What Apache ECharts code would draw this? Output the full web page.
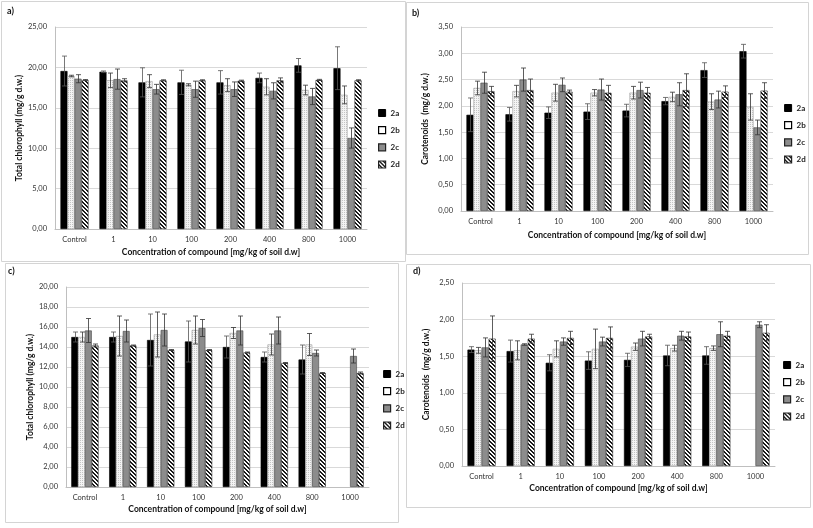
<!DOCTYPE html>
<html><head><meta charset="utf-8">
<script src="https://cdn.jsdelivr.net/npm/echarts@6/dist/echarts.min.js"></script>
<style>html,body{margin:0;padding:0;background:#fff}#c{width:813px;height:528px}</style>
</head><body><div id="c"></div>
<script>
var categories = ['Control','1','10','100','200','400','800','1000'];
var seriesNames = ['2a','2b','2c','2d'];

// Panel a – total chlorophyll
var a2a = [19.55, 19.46, 18.15, 18.15, 18.15, 18.7, 20.25, 19.9];
var a2aErr = [1.85, 0.1, 1.8, 1.5, 1.45, 0.6, 0.85, 2.65];
var a2b = [18.93, 18.4, 18.3, 17.85, 17.8, 17.6, 17.2, 16.6];
var a2bErr = [0.1, 0.9, 0.8, 0.13, 0.8, 1.0, 0.6, 1.1];
var a2c = [18.6, 18.55, 17.3, 17.3, 17.3, 17.1, 16.4, 11.26];
var a2cErr = [0.5, 1.25, 0.6, 1.0, 0.9, 1.0, 1.0, 1.25];
var a2d = [18.43, 18.4, 18.4, 18.4, 18.35, 18.4, 18.45, 18.4];
var a2dErr = [0.07, 0.2, 0.07, 0.07, 0.07, 0.3, 0.07, 0.07];

// Panel b – carotenoids
var b2a = [1.83, 1.84, 1.87, 1.89, 1.91, 2.09, 2.68, 3.04];
var b2aErr = [0.32, 0.13, 0.11, 0.15, 0.12, 0.07, 0.14, 0.13];
var b2b = [2.34, 2.28, 2.25, 2.25, 2.25, 2.17, 2.08, 1.98];
var b2bErr = [0.13, 0.11, 0.16, 0.06, 0.12, 0.09, 0.15, 0.25];
var b2c = [2.44, 2.5, 2.4, 2.31, 2.3, 2.22, 2.12, 1.59];
var b2cErr = [0.2, 0.22, 0.13, 0.2, 0.15, 0.22, 0.16, 0.14];
var b2d = [2.28, 2.30, 2.27, 2.25, 2.25, 2.30, 2.27, 2.29];
var b2dErr = [0.09, 0.21, 0.03, 0.14, 0.1, 0.31, 0.11, 0.15];

// Panel c – total chlorophyll
var c2a = [15.0, 15.0, 14.7, 14.55, 14.0, 13.0, 12.75, null];
var c2aErr = [0.5, 0.5, 2.6, 2.05, 1.1, 0.5, 1.45, null];
var c2b = [15.0, 15.1, 15.25, 15.7, 15.4, 14.25, 14.25, null];
var c2bErr = [0.5, 2.0, 2.25, 1.4, 0.55, 1.05, 1.1, null];
var c2c = [15.65, 15.6, 15.7, 15.9, 15.65, 15.65, 13.4, 13.1];
var c2cErr = [1.2, 1.1, 1.6, 0.85, 1.45, 1.35, 0.3, 0.7];
var c2d = [14.15, 14.15, 13.7, 13.7, 13.45, 12.4, 11.4, 11.4];
var c2dErr = [0.15, 0.05, 0.05, 0.05, 0.05, 0.05, 0.05, 0.1];

// Panel d – carotenoids
var d2a = [1.59, 1.57, 1.41, 1.44, 1.45, 1.51, 1.51, null];
var d2aErr = [0.04, 0.15, 0.11, 0.12, 0.09, 0.14, 0.12, null];
var d2b = [1.58, 1.58, 1.60, 1.60, 1.63, 1.61, 1.61, null];
var d2bErr = [0.04, 0.13, 0.11, 0.27, 0.05, 0.04, 0.03, null];
var d2c = [1.62, 1.66, 1.70, 1.70, 1.74, 1.78, 1.80, 1.93];
var d2cErr = [0.13, 0.01, 0.05, 0.06, 0.10, 0.06, 0.17, 0.04];
var d2d = [1.74, 1.74, 1.75, 1.75, 1.77, 1.77, 1.78, 1.82];
var d2dErr = [0.31, 0.06, 0.09, 0.15, 0.03, 0.06, 0.06, 0.11];

var panelLabels = ['a)','b)','c)','d)'];
var yNames = ['Total chlorophyll (mg/g d.w.)','Carotenoids  (mg/g d.w.)','Total chlorophyll (mg/g d.w.)','Carotenoids  (mg/g d.w.)'];
var xName = 'Concentration of compound [mg/kg of soil d.w]';
var yMax = [25, 3.5, 20, 2.5];
var yInterval = [5, 0.5, 2, 0.5];

var panels = [
  {vals:[a2a,a2b,a2c,a2d], errs:[a2aErr,a2bErr,a2cErr,a2dErr]},
  {vals:[b2a,b2b,b2c,b2d], errs:[b2aErr,b2bErr,b2cErr,b2dErr]},
  {vals:[c2a,c2b,c2c,c2d], errs:[c2aErr,c2bErr,c2cErr,c2dErr]},
  {vals:[d2a,d2b,d2c,d2d], errs:[d2aErr,d2bErr,d2cErr,d2dErr]}
];

var FONT = 'Lato';
var grids = [
  {left:55, top:27, width:312, height:202},
  {left:461, top:27, width:312, height:184},
  {left:66, top:287, width:303, height:200},
  {left:462, top:283, width:313, height:183}
];
var xNameGap = [19, 20, 18, 18];
var yNameGap = [29, 31, 31, 31];
var legendPos = [
  {left:373, top:104}, {left:779, top:99}, {left:378, top:365}, {left:778, top:356}
];
var boxes = [
  {x:1, y:1, w:404, h:260}, {x:406, y:2, w:402, h:252},
  {x:5, y:263, w:393, h:259}, {x:406, y:264, w:404, h:243}
];
var labelPos = [[7,7],[412,9],[8,267],[413,267]];

// fill patterns
function makePattern(size, painter){
  var cv = document.createElement('canvas');
  cv.width = size; cv.height = size;
  var g = cv.getContext('2d');
  painter(g, size);
  return cv;
}
var hatchCanvas = makePattern(4, function(g, s){
  g.fillStyle = '#ffffff'; g.fillRect(0,0,s,s);
  g.fillStyle = '#1a1a1a';
  for (var y=0;y<s;y++){ for (var x=0;x<s;x++){ var d=((x-y)%4+4)%4; if (d===0||d===1) g.fillRect(x,y,1,1); } }
});
var speckCanvas = makePattern(2, function(g, s){
  g.fillStyle = '#f4f4f4'; g.fillRect(0,0,s,s);
  g.fillStyle = '#c4c4c4'; g.fillRect(0,0,1,1);
});

var CAT_GAP = 0.28;
var styles = [
  {color:'#000000', borderColor:'#000', borderWidth:0.6},
  {color:{image:speckCanvas, repeat:'repeat'}, borderColor:'#888', borderWidth:0.5},
  {color:'#8c8c8c', borderColor:'#444', borderWidth:0.6},
  {color:{image:hatchCanvas, repeat:'repeat'}, borderColor:'#333', borderWidth:0.6}
];
var legendData = [
  {name:'2a', itemStyle:{color:'#000', borderColor:'#000', borderWidth:1}},
  {name:'2b', itemStyle:{color:'#fff', borderColor:'#000', borderWidth:1.2}},
  {name:'2c', itemStyle:{color:'#8c8c8c', borderColor:'#222', borderWidth:1.2}},
  {name:'2d', itemStyle:{borderColor:'#222', borderWidth:1.2}}
];

function fmt(v){ return v.toFixed(2).replace('.', ','); }

var option = {
  animation:false,
  backgroundColor:'#fff',
  textStyle:{fontFamily:FONT},
  grid:[], xAxis:[], yAxis:[], legend:[], series:[],
  graphic:[]
};

for (var p=0;p<4;p++){
  option.grid.push(grids[p]);
  option.xAxis.push({
    type:'category', gridIndex:p, data:categories,
    name:xName, nameLocation:'middle', nameGap:xNameGap[p],
    nameTextStyle:{fontFamily:FONT, fontWeight:'bold', fontSize:8.5, color:'#111'},
    axisLine:{lineStyle:{color:'#bfbfbf'}}, axisTick:{show:false},
    axisLabel:{fontFamily:FONT, fontSize:7.5, color:'#333', margin:7, interval:0}
  });
  option.yAxis.push({
    type:'value', gridIndex:p, min:0, max:yMax[p], interval:yInterval[p],
    name:yNames[p], nameLocation:'middle', nameGap:yNameGap[p],
    nameTextStyle:{fontFamily:FONT, fontWeight:'bold', fontSize:8.5, color:'#111'},
    axisLine:{show:true, lineStyle:{color:'#bfbfbf'}}, axisTick:{show:false},
    splitLine:{lineStyle:{color:'#d9d9d9'}},
    axisLabel:{fontFamily:FONT, fontSize:7.5, color:'#333', margin:8, formatter:fmt}
  });
  option.legend.push({
    data:legendData, orient:'vertical', left:legendPos[p].left, top:legendPos[p].top,
    itemWidth:7, itemHeight:7, itemGap:9, icon:'rect',
    textStyle:{fontFamily:FONT, fontWeight:'bold', fontSize:8, color:'#222'},
    selectedMode:false
  });
  for (var k=0;k<4;k++){
    var vals = panels[p].vals[k].map(function(v){ return v==null ? '-' : v; });
    option.series.push({
      type:'bar', name:seriesNames[k], xAxisIndex:p, yAxisIndex:p,
      data:vals, barGap:'0%', barCategoryGap:(CAT_GAP*100)+'%',
      itemStyle:styles[k], z:2
    });
  }
  for (var k2=0;k2<4;k2++){
    var ed = [];
    var vv = panels[p].vals[k2], ee = panels[p].errs[k2];
    for (var i=0;i<vv.length;i++){ if (vv[i]!=null) ed.push([i, vv[i], ee[i]]); }
    (function(k){
      option.series.push({
        type:'custom', name:'err'+p+k, xAxisIndex:p, yAxisIndex:p, z:5,
        data:ed, encode:{x:0, y:1},
        renderItem:function(params, api){
          var idx = api.value(0), v = api.value(1), e = api.value(2);
          var c = api.coord([idx, v]);
          var band = api.size([1,0])[0];
          var groupW = band*(1-CAT_GAP);
          var barW = groupW/4;
          var x = Math.round(c[0] - groupW/2 + barW*(k+0.5)) + 0.5;
          var t = api.coord([idx, v+e])[1];
          var b = api.coord([idx, Math.max(0, v-e)])[1];
          var col = k===0 ? '#555' : '#333';
          var st = {stroke:col, lineWidth:0.8};
          return {type:'group', children:[
            {type:'line', shape:{x1:x, y1:t, x2:x, y2:b}, style:st},
            {type:'line', shape:{x1:x-2.5, y1:t, x2:x+2.5, y2:t}, style:st},
            {type:'line', shape:{x1:x-2.5, y1:b, x2:x+2.5, y2:b}, style:st}
          ]};
        }
      });
    })(k2);
  }
  option.graphic.push({type:'rect', shape:{x:boxes[p].x+0.5, y:boxes[p].y+0.5, width:boxes[p].w, height:boxes[p].h},
    style:{fill:'none', stroke:'#d4d4d4', lineWidth:1}, z:-1, silent:true});
  option.graphic.push({type:'text', left:labelPos[p][0], top:labelPos[p][1],
    style:{text:panelLabels[p], font:'bold 9px '+FONT, fill:'#111'}});
}

var chart = echarts.init(document.getElementById('c'), null, {renderer:'canvas'});
chart.setOption(option);
</script></body></html>
